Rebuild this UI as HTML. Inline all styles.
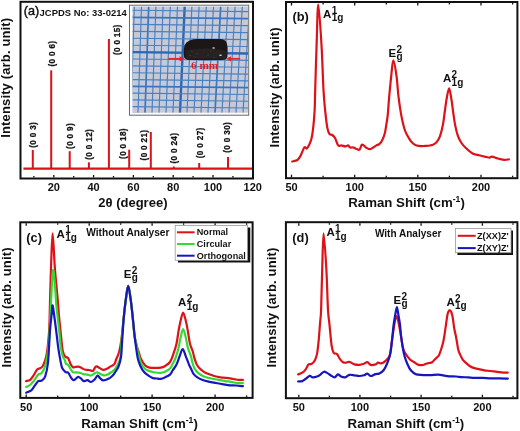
<!DOCTYPE html>
<html><head><meta charset="utf-8"><style>
html,body{margin:0;padding:0;background:#fff;width:520px;height:431px;overflow:hidden;}
svg{display:block;filter:blur(0.3px);font-family:"Liberation Sans",sans-serif;}
</style></head><body>
<svg width="520" height="431" viewBox="0 0 520 431" font-family="Liberation Sans, sans-serif">
<rect width="520" height="431" fill="#fff"/>
<line x1="23.4" y1="168.6" x2="252.0" y2="168.6" stroke="#dd1118" stroke-width="2.2"/>
<line x1="32.8" y1="168.6" x2="32.8" y2="150.0" stroke="#dd1118" stroke-width="2"/>
<line x1="51.2" y1="168.6" x2="51.2" y2="70.3" stroke="#dd1118" stroke-width="2"/>
<line x1="69.7" y1="168.6" x2="69.7" y2="151.2" stroke="#dd1118" stroke-width="2"/>
<line x1="88.9" y1="168.6" x2="88.9" y2="162.3" stroke="#dd1118" stroke-width="2"/>
<line x1="108.9" y1="168.6" x2="108.9" y2="39.0" stroke="#dd1118" stroke-width="2"/>
<line x1="129.2" y1="168.6" x2="129.2" y2="149.7" stroke="#dd1118" stroke-width="2"/>
<line x1="150.8" y1="168.6" x2="150.8" y2="132.0" stroke="#dd1118" stroke-width="2"/>
<line x1="173.8" y1="168.6" x2="173.8" y2="166.5" stroke="#dd1118" stroke-width="2"/>
<line x1="199.2" y1="168.6" x2="199.2" y2="163.0" stroke="#dd1118" stroke-width="2"/>
<line x1="228.0" y1="168.6" x2="228.0" y2="157.0" stroke="#dd1118" stroke-width="2"/>
<text x="35.9" y="147.8" font-size="8.20" font-weight="bold" text-anchor="start" fill="#111" transform="rotate(-90 35.9 147.8)" letter-spacing="0.32" stroke="#111" stroke-width="0.25">(0 0 3)</text>
<text x="54.7" y="66.5" font-size="8.20" font-weight="bold" text-anchor="start" fill="#111" transform="rotate(-90 54.7 66.5)" letter-spacing="0.32" stroke="#111" stroke-width="0.25">(0 0 6)</text>
<text x="72.6" y="148.9" font-size="8.20" font-weight="bold" text-anchor="start" fill="#111" transform="rotate(-90 72.6 148.9)" letter-spacing="0.32" stroke="#111" stroke-width="0.25">(0 0 9)</text>
<text x="91.8" y="159.7" font-size="8.20" font-weight="bold" text-anchor="start" fill="#111" transform="rotate(-90 91.8 159.7)" letter-spacing="0.32" stroke="#111" stroke-width="0.25">(0 0 12)</text>
<text x="119.7" y="55.1" font-size="8.20" font-weight="bold" text-anchor="start" fill="#111" transform="rotate(-90 119.7 55.1)" letter-spacing="0.32" stroke="#111" stroke-width="0.25">(0 0 15)</text>
<text x="126.0" y="158.9" font-size="8.20" font-weight="bold" text-anchor="start" fill="#111" transform="rotate(-90 126.0 158.9)" letter-spacing="0.32" stroke="#111" stroke-width="0.25">(0 0 18)</text>
<text x="147.1" y="160.4" font-size="8.20" font-weight="bold" text-anchor="start" fill="#111" transform="rotate(-90 147.1 160.4)" letter-spacing="0.32" stroke="#111" stroke-width="0.25">(0 0 21)</text>
<text x="176.7" y="163.5" font-size="8.20" font-weight="bold" text-anchor="start" fill="#111" transform="rotate(-90 176.7 163.5)" letter-spacing="0.32" stroke="#111" stroke-width="0.25">(0 0 24)</text>
<text x="202.6" y="158.2" font-size="8.20" font-weight="bold" text-anchor="start" fill="#111" transform="rotate(-90 202.6 158.2)" letter-spacing="0.32" stroke="#111" stroke-width="0.25">(0 0 27)</text>
<text x="229.9" y="152.7" font-size="8.20" font-weight="bold" text-anchor="start" fill="#111" transform="rotate(-90 229.9 152.7)" letter-spacing="0.32" stroke="#111" stroke-width="0.25">(0 0 30)</text>
<rect x="129.5" y="5.2" width="119.2" height="110" fill="#fbfbfb" stroke="#6a6a6a" stroke-width="1"/>
<svg x="132.4" y="6.5" width="115.6" height="106.2" viewBox="132.4 6.5 115.6 106.2" overflow="hidden">
<defs><filter id="bl" x="-5%" y="-5%" width="110%" height="110%"><feGaussianBlur stdDeviation="0.45"/></filter></defs>
<rect x="132.4" y="6.5" width="115.6" height="106.2" fill="#c6cad8"/>
<g filter="url(#bl)">
<line x1="127.10" y1="6.5" x2="124.00" y2="112.7" stroke="#4a80c0" stroke-width="1.15"/>
<line x1="134.30" y1="6.5" x2="131.00" y2="112.7" stroke="#4a80c0" stroke-width="1.15"/>
<line x1="141.50" y1="6.5" x2="138.00" y2="112.7" stroke="#4a80c0" stroke-width="1.15"/>
<line x1="148.70" y1="6.5" x2="145.00" y2="112.7" stroke="#3a76bc" stroke-width="1.70"/>
<line x1="155.90" y1="6.5" x2="152.00" y2="112.7" stroke="#4a80c0" stroke-width="1.15"/>
<line x1="163.10" y1="6.5" x2="159.00" y2="112.7" stroke="#4a80c0" stroke-width="1.15"/>
<line x1="170.30" y1="6.5" x2="166.00" y2="112.7" stroke="#4a80c0" stroke-width="1.15"/>
<line x1="177.50" y1="6.5" x2="173.00" y2="112.7" stroke="#4a80c0" stroke-width="1.15"/>
<line x1="184.70" y1="6.5" x2="180.00" y2="112.7" stroke="#2c68b2" stroke-width="2.40"/>
<line x1="191.90" y1="6.5" x2="187.00" y2="112.7" stroke="#4a80c0" stroke-width="1.15"/>
<line x1="199.10" y1="6.5" x2="194.00" y2="112.7" stroke="#4a80c0" stroke-width="1.15"/>
<line x1="206.30" y1="6.5" x2="201.00" y2="112.7" stroke="#4a80c0" stroke-width="1.15"/>
<line x1="213.50" y1="6.5" x2="208.00" y2="112.7" stroke="#4a80c0" stroke-width="1.15"/>
<line x1="220.70" y1="6.5" x2="215.00" y2="112.7" stroke="#3a76bc" stroke-width="1.70"/>
<line x1="227.90" y1="6.5" x2="222.00" y2="112.7" stroke="#4a80c0" stroke-width="1.15"/>
<line x1="235.10" y1="6.5" x2="229.00" y2="112.7" stroke="#4a80c0" stroke-width="1.15"/>
<line x1="242.30" y1="6.5" x2="236.00" y2="112.7" stroke="#4a80c0" stroke-width="1.15"/>
<line x1="249.50" y1="6.5" x2="243.00" y2="112.7" stroke="#4a80c0" stroke-width="1.15"/>
<line x1="256.70" y1="6.5" x2="250.00" y2="112.7" stroke="#4a80c0" stroke-width="1.15"/>
<line x1="132.4" y1="3.21" x2="248.0" y2="4.54" stroke="#4a80c0" stroke-width="1.15"/>
<line x1="132.4" y1="10.27" x2="248.0" y2="11.60" stroke="#4a80c0" stroke-width="1.15"/>
<line x1="132.4" y1="17.31" x2="248.0" y2="18.64" stroke="#3a76bc" stroke-width="1.70"/>
<line x1="132.4" y1="24.32" x2="248.0" y2="25.65" stroke="#4a80c0" stroke-width="1.15"/>
<line x1="132.4" y1="31.31" x2="248.0" y2="32.64" stroke="#4a80c0" stroke-width="1.15"/>
<line x1="132.4" y1="38.28" x2="248.0" y2="39.61" stroke="#4a80c0" stroke-width="1.15"/>
<line x1="132.4" y1="45.22" x2="248.0" y2="46.55" stroke="#4a80c0" stroke-width="1.15"/>
<line x1="132.4" y1="52.14" x2="248.0" y2="53.47" stroke="#2c68b2" stroke-width="2.40"/>
<line x1="132.4" y1="59.03" x2="248.0" y2="60.36" stroke="#4a80c0" stroke-width="1.15"/>
<line x1="132.4" y1="65.90" x2="248.0" y2="67.23" stroke="#4a80c0" stroke-width="1.15"/>
<line x1="132.4" y1="72.75" x2="248.0" y2="74.08" stroke="#4a80c0" stroke-width="1.15"/>
<line x1="132.4" y1="79.57" x2="248.0" y2="80.90" stroke="#4a80c0" stroke-width="1.15"/>
<line x1="132.4" y1="86.37" x2="248.0" y2="87.70" stroke="#3a76bc" stroke-width="1.70"/>
<line x1="132.4" y1="93.14" x2="248.0" y2="94.47" stroke="#4a80c0" stroke-width="1.15"/>
<line x1="132.4" y1="99.89" x2="248.0" y2="101.22" stroke="#4a80c0" stroke-width="1.15"/>
<line x1="132.4" y1="106.62" x2="248.0" y2="107.95" stroke="#4a80c0" stroke-width="1.15"/>
<line x1="132.4" y1="113.32" x2="248.0" y2="114.65" stroke="#4a80c0" stroke-width="1.15"/>
<path d="M183.8,50 L184.4,45.5 Q186,41.8 189.5,40.4 Q193,39.1 198,39.1 L220,39 Q225,39.2 226.6,42.5 Q227.8,46 227.6,52 L227.4,57 Q226.6,60 222,60.1 L205,60.3 L189,60 Q185,59.6 184,57 Z" fill="#1a1617"/>
<path d="M185,50.5 Q196,48 210,48.5 Q221,49 226.5,51.5 L226.5,58.5 L186,59 Z" fill="#2b2222" opacity="0.85"/>
<circle cx="192.0" cy="51.0" r="0.8" fill="#4a3530"/>
<circle cx="197.0" cy="54.0" r="0.7" fill="#503a33"/>
<circle cx="204.0" cy="50.0" r="0.6" fill="#45322e"/>
<circle cx="208.0" cy="55.0" r="0.8" fill="#4d3631"/>
<circle cx="199.0" cy="49.0" r="0.5" fill="#3e2e2c"/>
<circle cx="217.0" cy="52.0" r="0.6" fill="#4a3530"/>
<circle cx="190.0" cy="55.5" r="0.6" fill="#554"/>
<circle cx="211.0" cy="51.0" r="0.5" fill="#554"/>
<circle cx="195.0" cy="57.0" r="0.6" fill="#5a4a44"/>
<circle cx="214.0" cy="57.5" r="0.6" fill="#5a4a44"/>
<ellipse cx="213.6" cy="48" rx="1.3" ry="0.8" fill="#d8d8d8"/><ellipse cx="220.5" cy="55.2" rx="1.4" ry="0.8" fill="#cfcfcf"/>
<line x1="168.3" y1="58.8" x2="181" y2="58.8" stroke="#e8202a" stroke-width="1.7"/>
<path d="M184.5,58.8 L179.6,56.2 L179.6,61.4 Z" fill="#e8202a"/>
<line x1="229" y1="58.8" x2="240.2" y2="58.8" stroke="#e8202a" stroke-width="1.7"/>
<path d="M226.3,58.8 L231,56.2 L231,61.4 Z" fill="#e8202a"/>
<text x="191.0" y="68.6" font-family="Liberation Serif, serif" font-size="11" font-weight="bold" fill="#e41c24" textLength="27" lengthAdjust="spacingAndGlyphs">6 mm</text>
</g>
</svg>
<rect x="20.5" y="1.8" width="232.5" height="176.7" fill="none" stroke="#111" stroke-width="2.0"/>
<line x1="53.8" y1="177.5" x2="53.8" y2="175.0" stroke="#111" stroke-width="1.3"/>
<line x1="93.6" y1="177.5" x2="93.6" y2="175.0" stroke="#111" stroke-width="1.3"/>
<line x1="133.4" y1="177.5" x2="133.4" y2="175.0" stroke="#111" stroke-width="1.3"/>
<line x1="173.2" y1="177.5" x2="173.2" y2="175.0" stroke="#111" stroke-width="1.3"/>
<line x1="213.0" y1="177.5" x2="213.0" y2="175.0" stroke="#111" stroke-width="1.3"/>
<line x1="252.8" y1="177.5" x2="252.8" y2="175.0" stroke="#111" stroke-width="1.3"/>
<line x1="33.9" y1="177.5" x2="33.9" y2="176.0" stroke="#111" stroke-width="1.3"/>
<line x1="73.7" y1="177.5" x2="73.7" y2="176.0" stroke="#111" stroke-width="1.3"/>
<line x1="113.5" y1="177.5" x2="113.5" y2="176.0" stroke="#111" stroke-width="1.3"/>
<line x1="153.3" y1="177.5" x2="153.3" y2="176.0" stroke="#111" stroke-width="1.3"/>
<line x1="193.1" y1="177.5" x2="193.1" y2="176.0" stroke="#111" stroke-width="1.3"/>
<line x1="232.9" y1="177.5" x2="232.9" y2="176.0" stroke="#111" stroke-width="1.3"/>
<text x="53.8" y="191.3" font-size="11.00" font-weight="bold" text-anchor="middle" fill="#111" >20</text>
<text x="93.6" y="191.3" font-size="11.00" font-weight="bold" text-anchor="middle" fill="#111" >40</text>
<text x="133.4" y="191.3" font-size="11.00" font-weight="bold" text-anchor="middle" fill="#111" >60</text>
<text x="173.2" y="191.3" font-size="11.00" font-weight="bold" text-anchor="middle" fill="#111" >80</text>
<text x="213.0" y="191.3" font-size="11.00" font-weight="bold" text-anchor="middle" fill="#111" >100</text>
<text x="252.8" y="191.3" font-size="11.00" font-weight="bold" text-anchor="middle" fill="#111" >120</text>
<text x="132.9" y="207.4" font-size="13.00" font-weight="bold" text-anchor="middle" fill="#111" >2&#952; (degree)</text>
<text x="10.3" y="77.8" font-size="13.00" font-weight="bold" text-anchor="middle" fill="#111" transform="rotate(-90 10.3 77.8)" textLength="120" lengthAdjust="spacing">Intensity (arb. unit)</text>
<text x="23.8" y="15.0" font-size="12.60" font-weight="normal" text-anchor="start" fill="#111" stroke="#111" stroke-width="0.45">(a)</text>
<text x="39.6" y="15.8" font-size="9.45" font-weight="bold" text-anchor="start" fill="#111" >JCPDS No: 33-0214</text>
<path d="M292.20,161.50 C293.07,161.25 296.02,160.93 297.40,160.00 C298.78,159.07 299.35,157.98 300.50,155.90 C301.65,153.82 303.25,148.73 304.30,147.50 C305.35,146.27 306.03,148.85 306.80,148.50 C307.57,148.15 308.13,146.97 308.90,145.40 C309.67,143.83 310.70,141.88 311.40,139.10 C312.10,136.32 312.57,133.40 313.10,128.70 C313.63,124.00 314.25,117.35 314.60,110.90 C314.95,104.45 314.87,100.98 315.20,90.00 C315.53,79.02 316.08,59.25 316.60,45.00 C317.12,30.75 317.48,4.50 318.30,4.50 C319.12,4.50 320.63,30.75 321.50,45.00 C322.37,59.25 322.88,79.02 323.50,90.00 C324.12,100.98 324.57,104.63 325.20,110.90 C325.83,117.17 326.60,123.77 327.30,127.60 C328.00,131.43 328.57,132.67 329.40,133.90 C330.23,135.13 331.37,134.32 332.30,135.00 C333.23,135.68 334.02,136.27 335.00,138.00 C335.98,139.73 337.15,144.17 338.20,145.40 C339.25,146.63 340.08,145.23 341.30,145.40 C342.52,145.57 344.37,146.40 345.50,146.40 C346.63,146.40 347.32,145.22 348.10,145.40 C348.88,145.58 349.32,147.15 350.20,147.50 C351.08,147.85 352.35,147.25 353.40,147.50 C354.45,147.75 355.47,148.65 356.50,149.00 C357.53,149.35 358.73,150.30 359.60,149.60 C360.47,148.90 361.00,145.50 361.70,144.80 C362.40,144.10 363.10,144.95 363.80,145.40 C364.50,145.85 364.92,146.87 365.90,147.50 C366.88,148.13 368.48,149.20 369.70,149.20 C370.92,149.20 372.08,148.13 373.20,147.50 C374.32,146.87 375.35,146.00 376.40,145.40 C377.45,144.80 378.53,144.77 379.50,143.90 C380.47,143.03 381.30,142.02 382.20,140.20 C383.10,138.38 384.20,135.70 384.90,133.00 C385.60,130.30 385.93,126.95 386.40,124.00 C386.87,121.05 387.23,119.85 387.70,115.30 C388.17,110.75 388.61,103.28 389.20,96.70 C389.79,90.12 390.57,81.85 391.25,75.80 C391.93,69.75 392.43,60.40 393.30,60.40 C394.18,60.40 395.63,69.75 396.50,75.80 C397.37,81.85 397.70,90.10 398.50,96.70 C399.30,103.30 400.25,109.85 401.30,115.40 C402.35,120.95 403.52,126.18 404.80,130.00 C406.08,133.82 407.62,136.05 409.00,138.30 C410.38,140.55 411.82,142.30 413.10,143.50 C414.38,144.70 415.40,145.07 416.70,145.50 C418.00,145.93 419.50,146.03 420.90,146.10 C422.30,146.17 423.58,146.00 425.10,145.90 C426.62,145.80 428.57,145.75 430.00,145.50 C431.43,145.25 432.47,145.13 433.70,144.40 C434.93,143.67 436.32,142.57 437.40,141.10 C438.48,139.63 439.27,138.38 440.20,135.60 C441.13,132.82 442.23,128.42 443.00,124.40 C443.77,120.38 444.18,115.82 444.80,111.50 C445.42,107.18 445.98,102.35 446.70,98.50 C447.42,94.65 448.33,88.40 449.10,88.40 C449.87,88.40 450.63,94.65 451.30,98.50 C451.97,102.35 452.48,107.18 453.10,111.50 C453.72,115.82 454.22,120.38 455.00,124.40 C455.78,128.42 456.72,132.50 457.80,135.60 C458.88,138.70 460.12,140.88 461.50,143.00 C462.88,145.12 464.25,146.55 466.10,148.30 C467.95,150.05 470.43,152.33 472.60,153.50 C474.77,154.67 477.08,154.78 479.10,155.30 C481.12,155.82 482.98,156.22 484.70,156.60 C486.42,156.98 488.17,157.60 489.40,157.60 C490.63,157.60 490.72,156.45 492.10,156.60 C493.48,156.75 495.68,157.97 497.70,158.50 C499.72,159.03 502.33,159.65 504.20,159.80 C506.07,159.95 508.12,159.47 508.90,159.40" fill="none" stroke="#dd1118" stroke-width="2.20" stroke-linejoin="round" stroke-linecap="round"/>
<rect x="286.0" y="2.0" width="231.4" height="176.2" fill="none" stroke="#111" stroke-width="2.0"/>
<line x1="291.5" y1="177.2" x2="291.5" y2="174.7" stroke="#111" stroke-width="1.3"/>
<line x1="354.7" y1="177.2" x2="354.7" y2="174.7" stroke="#111" stroke-width="1.3"/>
<line x1="417.8" y1="177.2" x2="417.8" y2="174.7" stroke="#111" stroke-width="1.3"/>
<line x1="481.0" y1="177.2" x2="481.0" y2="174.7" stroke="#111" stroke-width="1.3"/>
<line x1="323.1" y1="177.2" x2="323.1" y2="175.7" stroke="#111" stroke-width="1.3"/>
<line x1="386.3" y1="177.2" x2="386.3" y2="175.7" stroke="#111" stroke-width="1.3"/>
<line x1="449.4" y1="177.2" x2="449.4" y2="175.7" stroke="#111" stroke-width="1.3"/>
<line x1="512.6" y1="177.2" x2="512.6" y2="175.7" stroke="#111" stroke-width="1.3"/>
<line x1="291.5" y1="3.0" x2="291.5" y2="5.5" stroke="#111" stroke-width="1.3"/>
<line x1="354.7" y1="3.0" x2="354.7" y2="5.5" stroke="#111" stroke-width="1.3"/>
<line x1="417.8" y1="3.0" x2="417.8" y2="5.5" stroke="#111" stroke-width="1.3"/>
<line x1="481.0" y1="3.0" x2="481.0" y2="5.5" stroke="#111" stroke-width="1.3"/>
<line x1="323.1" y1="3.0" x2="323.1" y2="4.5" stroke="#111" stroke-width="1.3"/>
<line x1="386.3" y1="3.0" x2="386.3" y2="4.5" stroke="#111" stroke-width="1.3"/>
<line x1="449.4" y1="3.0" x2="449.4" y2="4.5" stroke="#111" stroke-width="1.3"/>
<line x1="512.6" y1="3.0" x2="512.6" y2="4.5" stroke="#111" stroke-width="1.3"/>
<text x="291.5" y="191.3" font-size="11.00" font-weight="bold" text-anchor="middle" fill="#111" >50</text>
<text x="354.7" y="191.3" font-size="11.00" font-weight="bold" text-anchor="middle" fill="#111" >100</text>
<text x="417.8" y="191.3" font-size="11.00" font-weight="bold" text-anchor="middle" fill="#111" >150</text>
<text x="481.0" y="191.3" font-size="11.00" font-weight="bold" text-anchor="middle" fill="#111" >200</text>
<text x="348.2" y="207.2" font-size="13.25" font-weight="bold" fill="#111">Raman Shift (cm<tspan font-size="8.6" dy="-5">-1</tspan><tspan dy="5">)</tspan></text>
<text x="279.0" y="87.5" font-size="13.00" font-weight="bold" text-anchor="middle" fill="#111" transform="rotate(-90 279.0 87.5)" textLength="120" lengthAdjust="spacing">Intensity (arb. unit)</text>
<text x="292.5" y="21.2" font-size="12.80" font-weight="bold" text-anchor="start" fill="#111" >(b)</text>
<text x="323.1" y="17.6" font-size="11.5" font-weight="bold" fill="#111">A</text>
<text x="331.7" y="13.5" font-size="10.0" font-weight="bold" fill="#111">1</text>
<text x="331.7" y="21.0" font-size="10.0" font-weight="bold" fill="#111">1g</text>
<text x="388.5" y="56.6" font-size="11.5" font-weight="bold" fill="#111">E</text>
<text x="396.5" y="52.5" font-size="10.0" font-weight="bold" fill="#111">2</text>
<text x="396.5" y="60.0" font-size="10.0" font-weight="bold" fill="#111">g</text>
<text x="443.0" y="82.1" font-size="11.5" font-weight="bold" fill="#111">A</text>
<text x="451.6" y="78.0" font-size="10.0" font-weight="bold" fill="#111">2</text>
<text x="451.6" y="85.5" font-size="10.0" font-weight="bold" fill="#111">1g</text>
<path d="M26.20,381.10 C26.85,380.90 28.87,380.87 30.10,379.90 C31.33,378.93 32.43,377.03 33.60,375.30 C34.77,373.57 36.02,370.67 37.10,369.50 C38.18,368.33 39.15,368.88 40.10,368.30 C41.05,367.72 41.95,367.35 42.80,366.00 C43.65,364.65 44.58,362.03 45.20,360.20 C45.82,358.37 46.07,357.37 46.50,355.00 C46.93,352.63 47.33,350.53 47.80,346.00 C48.27,341.47 48.92,335.80 49.30,327.80 C49.68,319.80 49.82,307.88 50.10,298.00 C50.38,288.12 50.58,279.27 51.00,268.50 C51.42,257.73 51.95,233.40 52.60,233.40 C53.25,233.40 54.07,257.73 54.90,268.50 C55.73,279.27 56.93,290.28 57.60,298.00 C58.27,305.72 58.47,309.83 58.90,314.80 C59.33,319.77 59.77,323.48 60.20,327.80 C60.63,332.12 61.10,337.00 61.50,340.70 C61.90,344.40 62.12,347.52 62.60,350.00 C63.08,352.48 63.83,354.43 64.40,355.60 C64.97,356.77 65.35,356.53 66.00,357.00 C66.65,357.47 67.53,357.25 68.30,358.40 C69.07,359.55 69.82,362.43 70.60,363.90 C71.38,365.37 72.22,366.70 73.00,367.20 C73.78,367.70 74.45,366.98 75.30,366.90 C76.15,366.82 77.17,366.58 78.10,366.70 C79.03,366.82 79.82,367.13 80.90,367.60 C81.98,368.07 83.22,369.10 84.60,369.50 C85.98,369.90 87.82,369.77 89.20,370.00 C90.58,370.23 91.90,371.37 92.90,370.90 C93.90,370.43 94.57,367.95 95.20,367.20 C95.83,366.45 95.98,366.28 96.70,366.40 C97.42,366.52 98.42,367.33 99.50,367.90 C100.58,368.47 101.97,369.67 103.20,369.80 C104.43,369.93 105.65,369.27 106.90,368.70 C108.15,368.13 109.45,367.15 110.70,366.40 C111.95,365.65 113.47,365.43 114.40,364.20 C115.33,362.97 115.48,361.15 116.30,359.00 C117.12,356.85 118.37,355.13 119.30,351.30 C120.23,347.47 121.17,341.52 121.90,336.00 C122.63,330.48 123.07,324.13 123.70,318.20 C124.33,312.27 124.95,305.80 125.70,300.40 C126.45,295.00 127.35,285.80 128.20,285.80 C129.05,285.80 130.03,295.00 130.80,300.40 C131.57,305.80 132.17,312.27 132.80,318.20 C133.43,324.13 133.87,331.12 134.60,336.00 C135.33,340.88 136.57,345.02 137.20,347.50 C137.83,349.98 137.75,348.93 138.40,350.90 C139.05,352.87 139.95,356.87 141.10,359.30 C142.25,361.73 143.90,364.12 145.30,365.50 C146.70,366.88 147.87,367.20 149.50,367.60 C151.13,368.00 153.23,367.90 155.10,367.90 C156.97,367.90 159.08,367.88 160.70,367.60 C162.32,367.32 163.25,367.13 164.80,366.20 C166.35,365.27 168.58,364.00 170.00,362.00 C171.42,360.00 172.22,357.23 173.30,354.20 C174.38,351.17 175.63,347.62 176.50,343.80 C177.37,339.98 177.82,335.13 178.50,331.30 C179.18,327.47 179.83,323.93 180.60,320.80 C181.37,317.67 182.23,312.50 183.10,312.50 C183.97,312.50 185.00,317.67 185.80,320.80 C186.60,323.93 187.20,327.47 187.90,331.30 C188.60,335.13 189.18,340.43 190.00,343.80 C190.82,347.17 192.10,349.23 192.80,351.50 C193.50,353.77 193.58,355.33 194.20,357.40 C194.82,359.47 195.65,362.12 196.50,363.90 C197.35,365.68 198.07,366.78 199.30,368.10 C200.53,369.42 202.35,370.80 203.90,371.80 C205.45,372.80 206.90,373.40 208.60,374.10 C210.30,374.80 212.10,375.45 214.10,376.00 C216.10,376.55 218.73,377.10 220.60,377.40 C222.47,377.70 223.73,377.65 225.30,377.80 C226.87,377.95 228.38,378.05 230.00,378.30 C231.62,378.55 233.62,379.03 235.00,379.30 C236.38,379.57 236.98,379.80 238.30,379.90 C239.62,380.00 242.13,379.90 242.90,379.90" fill="none" stroke="#dd1118" stroke-width="2.20" stroke-linejoin="round" stroke-linecap="round"/>
<path d="M26.20,386.90 C26.83,386.58 28.77,385.97 30.00,385.00 C31.23,384.03 32.23,382.83 33.60,381.10 C34.97,379.37 36.85,375.95 38.20,374.60 C39.55,373.25 40.53,374.43 41.70,373.00 C42.87,371.57 44.15,369.67 45.20,366.00 C46.25,362.33 47.23,357.37 48.00,351.00 C48.77,344.63 49.27,336.63 49.80,327.80 C50.33,318.97 50.67,307.63 51.20,298.00 C51.73,288.37 52.32,271.33 53.00,270.00 C53.68,268.67 54.75,284.17 55.30,290.00 C55.85,295.83 55.95,300.87 56.30,305.00 C56.65,309.13 56.90,310.38 57.40,314.80 C57.90,319.22 58.75,326.25 59.30,331.50 C59.85,336.75 60.15,342.28 60.70,346.30 C61.25,350.32 61.92,353.28 62.60,355.60 C63.28,357.92 64.23,358.80 64.80,360.20 C65.37,361.60 65.42,363.22 66.00,364.00 C66.58,364.78 67.53,364.07 68.30,364.90 C69.07,365.73 69.82,367.77 70.60,369.00 C71.38,370.23 72.07,371.75 73.00,372.30 C73.93,372.85 75.05,372.23 76.20,372.30 C77.35,372.37 78.73,372.40 79.90,372.70 C81.07,373.00 81.95,373.78 83.20,374.10 C84.45,374.42 86.08,374.37 87.40,374.60 C88.72,374.83 89.87,375.73 91.10,375.50 C92.33,375.27 93.80,373.72 94.80,373.20 C95.80,372.68 96.17,372.28 97.10,372.40 C98.03,372.52 99.23,373.40 100.40,373.90 C101.57,374.40 102.85,375.35 104.10,375.40 C105.35,375.45 106.65,374.77 107.90,374.20 C109.15,373.63 110.52,372.73 111.60,372.00 C112.68,371.27 113.47,370.88 114.40,369.80 C115.33,368.72 116.20,367.60 117.20,365.50 C118.20,363.40 119.62,362.12 120.40,357.20 C121.18,352.28 121.35,342.50 121.90,336.00 C122.45,329.50 123.07,324.13 123.70,318.20 C124.33,312.27 124.95,305.80 125.70,300.40 C126.45,295.00 127.35,285.80 128.20,285.80 C129.05,285.80 130.03,295.00 130.80,300.40 C131.57,305.80 132.17,312.27 132.80,318.20 C133.43,324.13 133.92,331.20 134.60,336.00 C135.28,340.80 136.27,344.05 136.90,347.00 C137.53,349.95 137.70,350.97 138.40,353.70 C139.10,356.43 139.95,360.85 141.10,363.40 C142.25,365.95 143.90,367.72 145.30,369.00 C146.70,370.28 147.87,370.52 149.50,371.10 C151.13,371.68 153.23,372.20 155.10,372.50 C156.97,372.80 159.08,373.02 160.70,372.90 C162.32,372.78 163.25,372.53 164.80,371.80 C166.35,371.07 168.70,369.80 170.00,368.50 C171.30,367.20 171.70,365.70 172.60,364.00 C173.50,362.30 174.42,360.98 175.40,358.30 C176.38,355.62 177.63,351.37 178.50,347.90 C179.37,344.43 179.83,340.62 180.60,337.50 C181.37,334.38 182.23,329.20 183.10,329.20 C183.97,329.20 185.00,334.38 185.80,337.50 C186.60,340.62 187.05,344.82 187.90,347.90 C188.75,350.98 190.17,353.63 190.90,356.00 C191.63,358.37 191.68,360.00 192.30,362.10 C192.92,364.20 193.58,366.75 194.60,368.60 C195.62,370.45 196.85,371.88 198.40,373.20 C199.95,374.52 201.90,375.65 203.90,376.50 C205.90,377.35 208.08,377.77 210.40,378.30 C212.72,378.83 215.32,379.23 217.80,379.70 C220.28,380.17 223.27,380.78 225.30,381.10 C227.33,381.42 228.03,381.27 230.00,381.60 C231.97,381.93 234.95,382.85 237.10,383.10 C239.25,383.35 241.93,383.10 242.90,383.10" fill="none" stroke="#32da32" stroke-width="2.20" stroke-linejoin="round" stroke-linecap="round"/>
<path d="M26.20,392.70 C27.05,392.30 29.88,391.47 31.30,390.30 C32.72,389.13 33.55,387.23 34.70,385.70 C35.85,384.17 37.03,381.95 38.20,381.10 C39.37,380.25 40.53,381.38 41.70,380.60 C42.87,379.82 44.15,379.42 45.20,376.40 C46.25,373.38 47.20,370.15 48.00,362.50 C48.80,354.85 49.38,338.60 50.00,330.50 C50.62,322.40 51.27,318.08 51.70,313.90 C52.13,309.72 52.12,304.63 52.60,305.40 C53.08,306.17 53.95,313.85 54.60,318.50 C55.25,323.15 55.88,328.37 56.50,333.30 C57.12,338.23 57.68,343.77 58.30,348.10 C58.92,352.43 59.58,356.05 60.20,359.30 C60.82,362.55 61.23,365.60 62.00,367.60 C62.77,369.60 64.13,370.52 64.80,371.30 C65.47,372.08 65.42,372.07 66.00,372.30 C66.58,372.53 67.53,371.93 68.30,372.70 C69.07,373.47 69.75,375.65 70.60,376.90 C71.45,378.15 72.55,379.88 73.40,380.20 C74.25,380.52 74.92,379.35 75.70,378.80 C76.48,378.25 77.23,376.98 78.10,376.90 C78.97,376.82 79.98,377.60 80.90,378.30 C81.82,379.00 82.52,380.78 83.60,381.10 C84.68,381.42 86.15,380.05 87.40,380.20 C88.65,380.35 89.87,382.17 91.10,382.00 C92.33,381.83 93.72,380.25 94.80,379.20 C95.88,378.15 96.67,375.82 97.60,375.70 C98.53,375.58 99.47,377.72 100.40,378.50 C101.33,379.28 101.95,380.30 103.20,380.40 C104.45,380.50 106.35,379.88 107.90,379.10 C109.45,378.32 111.27,376.88 112.50,375.70 C113.73,374.52 114.28,373.55 115.30,372.00 C116.32,370.45 117.65,368.87 118.60,366.40 C119.55,363.93 120.45,360.77 121.00,357.20 C121.55,353.63 121.45,351.50 121.90,345.00 C122.35,338.50 123.07,325.63 123.70,318.20 C124.33,310.77 124.95,305.80 125.70,300.40 C126.45,295.00 127.35,285.80 128.20,285.80 C129.05,285.80 130.03,295.00 130.80,300.40 C131.57,305.80 132.17,312.27 132.80,318.20 C133.43,324.13 134.13,331.72 134.60,336.00 C135.07,340.28 135.08,340.25 135.60,343.90 C136.12,347.55 136.88,354.18 137.70,357.90 C138.52,361.62 139.47,363.88 140.50,366.20 C141.53,368.52 142.63,370.28 143.90,371.80 C145.17,373.32 146.58,374.25 148.10,375.30 C149.62,376.35 151.60,377.57 153.00,378.10 C154.40,378.63 155.22,378.38 156.50,378.50 C157.78,378.62 159.32,378.98 160.70,378.80 C162.08,378.62 163.25,378.10 164.80,377.40 C166.35,376.70 168.70,375.75 170.00,374.60 C171.30,373.45 171.52,372.17 172.60,370.50 C173.68,368.83 175.33,366.97 176.50,364.60 C177.67,362.23 178.57,358.90 179.60,356.30 C180.63,353.70 181.67,349.00 182.70,349.00 C183.73,349.00 184.75,353.70 185.80,356.30 C186.85,358.90 188.07,362.40 189.00,364.60 C189.93,366.80 190.62,367.92 191.40,369.50 C192.18,371.08 192.70,372.78 193.70,374.10 C194.70,375.42 196.00,376.47 197.40,377.40 C198.80,378.33 200.23,379.00 202.10,379.70 C203.97,380.40 206.28,381.05 208.60,381.60 C210.92,382.15 213.53,382.55 216.00,383.00 C218.47,383.45 221.07,383.92 223.40,384.30 C225.73,384.68 227.90,385.10 230.00,385.30 C232.10,385.50 233.85,385.35 236.00,385.50 C238.15,385.65 241.75,386.08 242.90,386.20" fill="none" stroke="#1616c0" stroke-width="2.20" stroke-linejoin="round" stroke-linecap="round"/>
<rect x="20.3" y="222.3" width="232.3" height="175.6" fill="none" stroke="#111" stroke-width="2.0"/>
<line x1="26.2" y1="396.9" x2="26.2" y2="394.4" stroke="#111" stroke-width="1.3"/>
<line x1="89.2" y1="396.9" x2="89.2" y2="394.4" stroke="#111" stroke-width="1.3"/>
<line x1="152.1" y1="396.9" x2="152.1" y2="394.4" stroke="#111" stroke-width="1.3"/>
<line x1="215.1" y1="396.9" x2="215.1" y2="394.4" stroke="#111" stroke-width="1.3"/>
<line x1="57.7" y1="396.9" x2="57.7" y2="395.4" stroke="#111" stroke-width="1.3"/>
<line x1="120.7" y1="396.9" x2="120.7" y2="395.4" stroke="#111" stroke-width="1.3"/>
<line x1="183.6" y1="396.9" x2="183.6" y2="395.4" stroke="#111" stroke-width="1.3"/>
<line x1="246.6" y1="396.9" x2="246.6" y2="395.4" stroke="#111" stroke-width="1.3"/>
<line x1="26.2" y1="223.3" x2="26.2" y2="225.8" stroke="#111" stroke-width="1.3"/>
<line x1="89.2" y1="223.3" x2="89.2" y2="225.8" stroke="#111" stroke-width="1.3"/>
<line x1="152.1" y1="223.3" x2="152.1" y2="225.8" stroke="#111" stroke-width="1.3"/>
<line x1="215.1" y1="223.3" x2="215.1" y2="225.8" stroke="#111" stroke-width="1.3"/>
<line x1="57.7" y1="223.3" x2="57.7" y2="224.8" stroke="#111" stroke-width="1.3"/>
<line x1="120.7" y1="223.3" x2="120.7" y2="224.8" stroke="#111" stroke-width="1.3"/>
<line x1="183.6" y1="223.3" x2="183.6" y2="224.8" stroke="#111" stroke-width="1.3"/>
<line x1="246.6" y1="223.3" x2="246.6" y2="224.8" stroke="#111" stroke-width="1.3"/>
<text x="26.2" y="411.3" font-size="11.00" font-weight="bold" text-anchor="middle" fill="#111" >50</text>
<text x="89.2" y="411.3" font-size="11.00" font-weight="bold" text-anchor="middle" fill="#111" >100</text>
<text x="152.1" y="411.3" font-size="11.00" font-weight="bold" text-anchor="middle" fill="#111" >150</text>
<text x="215.1" y="411.3" font-size="11.00" font-weight="bold" text-anchor="middle" fill="#111" >200</text>
<text x="81.2" y="427.6" font-size="13.25" font-weight="bold" fill="#111">Raman Shift (cm<tspan font-size="8.6" dy="-5">-1</tspan><tspan dy="5">)</tspan></text>
<text x="10.5" y="307.5" font-size="13.00" font-weight="bold" text-anchor="middle" fill="#111" transform="rotate(-90 10.5 307.5)" textLength="120" lengthAdjust="spacing">Intensity (arb. unit)</text>
<text x="26.3" y="241.8" font-size="12.80" font-weight="bold" text-anchor="start" fill="#111" >(c)</text>
<text x="56.6" y="237.5" font-size="11.5" font-weight="bold" fill="#111">A</text>
<text x="65.2" y="233.4" font-size="10.0" font-weight="bold" fill="#111">1</text>
<text x="65.2" y="240.9" font-size="10.0" font-weight="bold" fill="#111">1g</text>
<text x="123.8" y="277.9" font-size="11.5" font-weight="bold" fill="#111">E</text>
<text x="131.8" y="273.8" font-size="10.0" font-weight="bold" fill="#111">2</text>
<text x="131.8" y="281.3" font-size="10.0" font-weight="bold" fill="#111">g</text>
<text x="178.1" y="306.3" font-size="11.5" font-weight="bold" fill="#111">A</text>
<text x="186.7" y="302.2" font-size="10.0" font-weight="bold" fill="#111">2</text>
<text x="186.7" y="309.7" font-size="10.0" font-weight="bold" fill="#111">1g</text>
<text x="86.2" y="236.3" font-size="10.20" font-weight="bold" text-anchor="start" fill="#111" >Without Analyser</text>
<rect x="178" y="227.5" width="72.3" height="35" fill="#111"/>
<rect x="175.2" y="225.4" width="72.3" height="34.9" fill="#fff" stroke="#999" stroke-width="0.8"/>
<line x1="177" y1="232.3" x2="194.6" y2="232.3" stroke="#dd1118" stroke-width="2"/>
<text x="196.8" y="235.4" font-size="9.10" font-weight="bold" text-anchor="start" fill="#111" >Normal</text>
<line x1="177" y1="244.0" x2="194.6" y2="244.0" stroke="#32da32" stroke-width="2"/>
<text x="196.8" y="247.1" font-size="9.10" font-weight="bold" text-anchor="start" fill="#111" >Circular</text>
<line x1="177" y1="255.7" x2="194.6" y2="255.7" stroke="#1616c0" stroke-width="2"/>
<text x="196.8" y="258.8" font-size="9.10" font-weight="bold" text-anchor="start" fill="#111" >Orthogonal</text>
<path d="M298.10,374.40 C298.80,374.12 301.07,373.50 302.30,372.70 C303.53,371.90 304.45,370.98 305.50,369.60 C306.55,368.22 307.57,365.35 308.60,364.40 C309.63,363.45 310.65,364.60 311.70,363.90 C312.75,363.20 314.02,361.87 314.90,360.20 C315.78,358.53 316.38,357.03 317.00,353.90 C317.62,350.77 318.08,346.63 318.60,341.40 C319.12,336.17 319.68,327.73 320.10,322.50 C320.52,317.27 320.75,318.75 321.10,310.00 C321.45,301.25 321.78,282.77 322.20,270.00 C322.62,257.23 322.90,233.40 323.60,233.40 C324.30,233.40 325.67,257.23 326.40,270.00 C327.13,282.77 327.48,300.90 328.00,310.00 C328.52,319.10 328.90,318.68 329.50,324.60 C330.10,330.52 330.90,340.78 331.60,345.50 C332.30,350.22 332.83,351.50 333.70,352.90 C334.57,354.30 335.75,352.87 336.80,353.90 C337.85,354.93 338.95,357.70 340.00,359.10 C341.05,360.50 342.07,361.70 343.10,362.30 C344.13,362.90 345.15,362.77 346.20,362.70 C347.25,362.63 348.00,361.62 349.40,361.90 C350.80,362.18 352.95,363.90 354.60,364.40 C356.25,364.90 357.75,365.02 359.30,364.90 C360.85,364.78 362.55,364.17 363.90,363.70 C365.25,363.23 366.25,361.90 367.40,362.10 C368.55,362.30 369.45,364.52 370.80,364.90 C372.15,365.28 374.30,364.77 375.50,364.40 C376.70,364.03 377.15,362.88 378.00,362.70 C378.85,362.52 379.75,363.30 380.60,363.30 C381.45,363.30 382.03,363.33 383.10,362.70 C384.17,362.07 385.88,360.78 387.00,359.50 C388.12,358.22 389.13,356.92 389.80,355.00 C390.47,353.08 390.58,350.83 391.00,348.00 C391.42,345.17 391.83,341.33 392.30,338.00 C392.77,334.67 393.32,331.00 393.80,328.00 C394.28,325.00 394.73,322.00 395.20,320.00 C395.67,318.00 396.13,316.00 396.60,316.00 C397.07,316.00 397.50,318.00 398.00,320.00 C398.50,322.00 399.05,325.00 399.60,328.00 C400.15,331.00 400.77,334.83 401.30,338.00 C401.83,341.17 402.22,344.58 402.80,347.00 C403.38,349.42 403.60,350.42 404.80,352.50 C406.00,354.58 408.50,357.92 410.00,359.50 C411.50,361.08 412.37,361.10 413.80,362.00 C415.23,362.90 417.07,364.40 418.60,364.90 C420.13,365.40 421.77,365.18 423.00,365.00 C424.23,364.82 425.00,364.13 426.00,363.80 C427.00,363.47 427.98,363.25 429.00,363.00 C430.02,362.75 431.22,362.80 432.10,362.30 C432.98,361.80 433.55,360.75 434.30,360.00 C435.05,359.25 435.85,358.55 436.60,357.80 C437.35,357.05 438.05,356.88 438.80,355.50 C439.55,354.12 440.33,351.88 441.10,349.50 C441.87,347.12 442.77,344.10 443.40,341.20 C444.03,338.30 444.40,335.37 444.90,332.10 C445.40,328.83 445.95,324.62 446.40,321.60 C446.85,318.58 447.22,315.77 447.60,314.00 C447.98,312.23 448.33,311.60 448.70,311.00 C449.07,310.40 449.42,310.32 449.80,310.40 C450.18,310.48 450.60,310.73 451.00,311.50 C451.40,312.27 451.85,313.58 452.20,315.00 C452.55,316.42 452.78,317.88 453.10,320.00 C453.42,322.12 453.67,325.15 454.10,327.70 C454.53,330.25 455.23,332.97 455.70,335.30 C456.17,337.63 456.48,339.35 456.90,341.70 C457.32,344.05 457.67,347.27 458.20,349.40 C458.73,351.53 459.35,352.80 460.10,354.50 C460.85,356.20 461.73,358.22 462.70,359.60 C463.67,360.98 464.73,361.73 465.90,362.80 C467.07,363.87 468.43,365.15 469.70,366.00 C470.97,366.85 472.12,367.42 473.50,367.90 C474.88,368.38 476.22,368.50 478.00,368.90 C479.78,369.30 482.08,369.95 484.20,370.30 C486.32,370.65 488.53,370.73 490.70,371.00 C492.87,371.27 495.03,371.63 497.20,371.90 C499.37,372.17 501.93,372.48 503.70,372.60 C505.47,372.72 507.12,372.60 507.80,372.60" fill="none" stroke="#dd1118" stroke-width="2.20" stroke-linejoin="round" stroke-linecap="round"/>
<path d="M298.10,381.50 C298.80,381.43 301.07,381.52 302.30,381.10 C303.53,380.68 304.28,379.87 305.50,379.00 C306.72,378.13 308.38,376.18 309.60,375.90 C310.82,375.62 311.57,377.20 312.80,377.30 C314.03,377.40 315.78,376.92 317.00,376.50 C318.22,376.08 318.95,375.60 320.10,374.80 C321.25,374.00 322.68,371.98 323.90,371.70 C325.12,371.42 326.30,372.52 327.40,373.10 C328.50,373.68 329.28,374.50 330.50,375.20 C331.72,375.90 333.47,377.43 334.70,377.30 C335.93,377.17 336.85,374.53 337.90,374.40 C338.95,374.27 339.78,376.02 341.00,376.50 C342.22,376.98 343.80,377.58 345.20,377.30 C346.60,377.02 347.83,375.13 349.40,374.80 C350.97,374.47 352.95,375.10 354.60,375.30 C356.25,375.50 357.75,376.00 359.30,376.00 C360.85,376.00 362.55,375.68 363.90,375.30 C365.25,374.92 366.25,373.58 367.40,373.70 C368.55,373.82 369.45,375.93 370.80,376.00 C372.15,376.07 374.08,374.52 375.50,374.10 C376.92,373.68 377.92,374.18 379.30,373.50 C380.68,372.82 382.48,371.70 383.80,370.00 C385.12,368.30 386.25,365.47 387.20,363.30 C388.15,361.13 388.90,359.12 389.50,357.00 C390.10,354.88 390.33,353.80 390.80,350.60 C391.27,347.40 391.83,342.07 392.30,337.80 C392.77,333.53 393.12,328.80 393.60,325.00 C394.08,321.20 394.65,317.97 395.20,315.00 C395.75,312.03 396.37,307.20 396.90,307.20 C397.43,307.20 397.90,312.20 398.40,315.00 C398.90,317.80 399.42,320.20 399.90,324.00 C400.38,327.80 400.73,333.37 401.30,337.80 C401.87,342.23 402.72,347.40 403.30,350.60 C403.88,353.80 404.17,354.88 404.80,357.00 C405.43,359.12 406.13,361.13 407.10,363.30 C408.07,365.47 409.07,368.15 410.60,370.00 C412.13,371.85 413.22,373.53 416.30,374.40 C419.38,375.27 425.45,375.17 429.10,375.20 C432.75,375.23 435.18,374.45 438.20,374.60 C441.22,374.75 444.18,375.78 447.20,376.10 C450.22,376.42 453.92,376.33 456.30,376.50 C458.68,376.67 459.55,376.95 461.50,377.10 C463.45,377.25 465.83,377.27 468.00,377.40 C470.17,377.53 472.07,377.82 474.50,377.90 C476.93,377.98 479.90,377.82 482.60,377.90 C485.30,377.98 487.98,378.32 490.70,378.40 C493.42,378.48 496.05,378.35 498.90,378.40 C501.75,378.45 506.32,378.65 507.80,378.70" fill="none" stroke="#1616c0" stroke-width="2.20" stroke-linejoin="round" stroke-linecap="round"/>
<rect x="285.9" y="222.2" width="231.5" height="176.0" fill="none" stroke="#111" stroke-width="2.0"/>
<line x1="298.8" y1="397.2" x2="298.8" y2="394.7" stroke="#111" stroke-width="1.3"/>
<line x1="359.9" y1="397.2" x2="359.9" y2="394.7" stroke="#111" stroke-width="1.3"/>
<line x1="421.1" y1="397.2" x2="421.1" y2="394.7" stroke="#111" stroke-width="1.3"/>
<line x1="482.4" y1="397.2" x2="482.4" y2="394.7" stroke="#111" stroke-width="1.3"/>
<line x1="329.4" y1="397.2" x2="329.4" y2="395.7" stroke="#111" stroke-width="1.3"/>
<line x1="390.6" y1="397.2" x2="390.6" y2="395.7" stroke="#111" stroke-width="1.3"/>
<line x1="451.8" y1="397.2" x2="451.8" y2="395.7" stroke="#111" stroke-width="1.3"/>
<line x1="513.0" y1="397.2" x2="513.0" y2="395.7" stroke="#111" stroke-width="1.3"/>
<line x1="298.8" y1="223.2" x2="298.8" y2="225.7" stroke="#111" stroke-width="1.3"/>
<line x1="359.9" y1="223.2" x2="359.9" y2="225.7" stroke="#111" stroke-width="1.3"/>
<line x1="421.1" y1="223.2" x2="421.1" y2="225.7" stroke="#111" stroke-width="1.3"/>
<line x1="482.4" y1="223.2" x2="482.4" y2="225.7" stroke="#111" stroke-width="1.3"/>
<line x1="329.4" y1="223.2" x2="329.4" y2="224.7" stroke="#111" stroke-width="1.3"/>
<line x1="390.6" y1="223.2" x2="390.6" y2="224.7" stroke="#111" stroke-width="1.3"/>
<line x1="451.8" y1="223.2" x2="451.8" y2="224.7" stroke="#111" stroke-width="1.3"/>
<line x1="513.0" y1="223.2" x2="513.0" y2="224.7" stroke="#111" stroke-width="1.3"/>
<text x="298.8" y="411.3" font-size="11.00" font-weight="bold" text-anchor="middle" fill="#111" >50</text>
<text x="359.9" y="411.3" font-size="11.00" font-weight="bold" text-anchor="middle" fill="#111" >100</text>
<text x="421.1" y="411.3" font-size="11.00" font-weight="bold" text-anchor="middle" fill="#111" >150</text>
<text x="482.4" y="411.3" font-size="11.00" font-weight="bold" text-anchor="middle" fill="#111" >200</text>
<text x="347.6" y="427.5" font-size="13.25" font-weight="bold" fill="#111">Raman Shift (cm<tspan font-size="8.6" dy="-5">-1</tspan><tspan dy="5">)</tspan></text>
<text x="276.3" y="307.6" font-size="13.00" font-weight="bold" text-anchor="middle" fill="#111" transform="rotate(-90 276.3 307.6)" textLength="120" lengthAdjust="spacing">Intensity (arb. unit)</text>
<text x="292.3" y="241.8" font-size="12.80" font-weight="bold" text-anchor="start" fill="#111" >(d)</text>
<text x="326.4" y="236.3" font-size="11.5" font-weight="bold" fill="#111">A</text>
<text x="335.0" y="232.2" font-size="10.0" font-weight="bold" fill="#111">1</text>
<text x="335.0" y="239.7" font-size="10.0" font-weight="bold" fill="#111">1g</text>
<text x="393.6" y="303.6" font-size="11.5" font-weight="bold" fill="#111">E</text>
<text x="401.6" y="299.5" font-size="10.0" font-weight="bold" fill="#111">2</text>
<text x="401.6" y="307.0" font-size="10.0" font-weight="bold" fill="#111">g</text>
<text x="446.4" y="305.9" font-size="11.5" font-weight="bold" fill="#111">A</text>
<text x="455.0" y="301.8" font-size="10.0" font-weight="bold" fill="#111">2</text>
<text x="455.0" y="309.3" font-size="10.0" font-weight="bold" fill="#111">1g</text>
<text x="374.9" y="236.6" font-size="10.05" font-weight="bold" text-anchor="start" fill="#111" >With Analyser</text>
<rect x="457.4" y="230.5" width="55.6" height="24.5" fill="#111"/>
<rect x="455.4" y="228.5" width="55.6" height="24.2" fill="#fff" stroke="#999" stroke-width="0.8"/>
<line x1="457.7" y1="235.8" x2="475.7" y2="235.8" stroke="#dd1118" stroke-width="2"/>
<text x="477.0" y="238.8" font-size="9.20" font-weight="bold" text-anchor="start" fill="#111" >Z(XX)Z'</text>
<line x1="457.7" y1="248.1" x2="475.7" y2="248.1" stroke="#1616c0" stroke-width="2"/>
<text x="477.0" y="251.1" font-size="9.20" font-weight="bold" text-anchor="start" fill="#111" >Z(XY)Z'</text>
</svg>
</body></html>
